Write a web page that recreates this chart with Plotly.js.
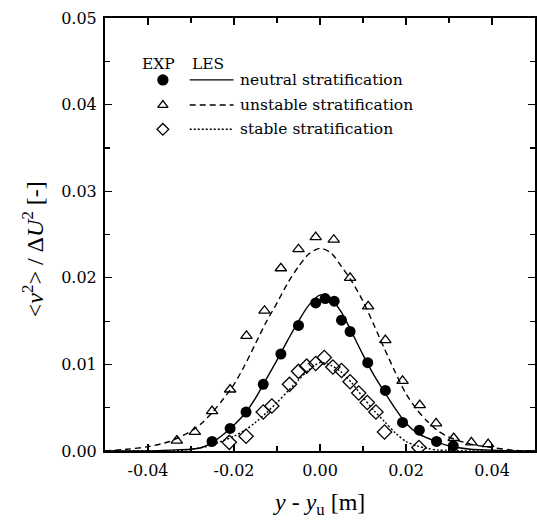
<!DOCTYPE html>
<html>
<head>
<meta charset="utf-8">
<script src="https://cdn.plot.ly/plotly-3.0.1.min.js"></script>
<style>html,body{margin:0;padding:0;background:#fff;}#chart{width:537px;height:520px;}</style>
</head>
<body>
<div id="chart"></div>
<script>
// ---- Experimental data (EXP) ----
const xExpNeutral = [-0.0251,-0.0209,-0.0172,-0.0132,-0.0091,-0.0050,-0.0010,0.0012,0.0033,0.0050,0.0070,0.0111,0.0152,0.0192,0.0231,0.0271,0.0310];
const yExpNeutral = [0.0011,0.0026,0.0045,0.0077,0.0112,0.0145,0.0171,0.0176,0.0173,0.0151,0.0138,0.0102,0.0070,0.0033,0.0024,0.0011,0.0006];

const xExpUnstable = [-0.0333,-0.0291,-0.0251,-0.0209,-0.0171,-0.0129,-0.0091,-0.0050,-0.0010,0.0032,0.0070,0.0112,0.0152,0.0192,0.0232,0.0270,0.0311,0.0352,0.0391];
const yExpUnstable = [0.0012,0.0022,0.0046,0.0071,0.0133,0.0162,0.0211,0.0233,0.0247,0.0244,0.0200,0.0167,0.0128,0.0081,0.0053,0.0032,0.0015,0.0010,0.0008];

const xExpStable = [-0.0211,-0.0172,-0.0132,-0.0112,-0.0071,-0.0050,-0.0031,-0.0010,0.0010,0.0030,0.0050,0.0070,0.0090,0.0110,0.0130,0.0150,0.0230];
const yExpStable = [0.0010,0.0017,0.0045,0.0052,0.0077,0.0092,0.0098,0.0101,0.0108,0.0097,0.0093,0.0080,0.0067,0.0056,0.0045,0.0022,0.0004];

// ---- LES profiles ----
const xLES = [-0.05,-0.045,-0.04,-0.035,-0.03,-0.0275,-0.025,-0.0225,-0.02,-0.0175,-0.015,-0.0125,-0.01,-0.0075,-0.005,-0.0025,0,0.0025,0.005,0.0075,0.01,0.0125,0.015,0.0175,0.02,0.0225,0.025,0.0275,0.03,0.035,0.04,0.045,0.05];
const yLESNeutral = [0,0,0,0.0001,0.0002,0.0004,0.0010,0.0019,0.0030,0.0043,0.0061,0.0083,0.0105,0.0128,0.0150,0.0169,0.0180,0.0176,0.0160,0.0136,0.0111,0.0088,0.0068,0.0049,0.0032,0.0021,0.0015,0.0010,0.0006,0.0002,0.0001,0,0];
const yLESUnstable = [0,0.0002,0.0005,0.0011,0.0023,0.0032,0.0045,0.0060,0.0077,0.0099,0.0124,0.0149,0.0171,0.0194,0.0213,0.0228,0.0234,0.0229,0.0213,0.0195,0.0173,0.0146,0.0118,0.0091,0.0066,0.0048,0.0034,0.0023,0.0016,0.0008,0.0004,0.0001,0];
const yLESStable = [0,0,0,0,0.0002,0.0004,0.0007,0.0012,0.0017,0.0024,0.0033,0.0044,0.0056,0.0069,0.0082,0.0094,0.0102,0.0099,0.0091,0.0078,0.0062,0.0047,0.0034,0.0021,0.0011,0.0006,0.0003,0.0001,0.0001,0,0,0,0];

// ---- Labels ----
const legendLabels = ['neutral stratification','unstable stratification','stable stratification'];
const xTickVals = [-0.04,-0.02,0.00,0.02,0.04];
const xTickText = ['-0.04','-0.02','0.00','0.02','0.04'];
const yTickVals = [0.00,0.01,0.02,0.03,0.04,0.05];
const yTickText = ['0.00','0.01','0.02','0.03','0.04','0.05'];

const FONT = 'DejaVu Serif';
const TFONT = 'Liberation Serif';
const dashes = ['solid','6px,4px','2px,2px'];
const symbols = ['circle','triangle-up-open','diamond-open'];

const lineW = 1.4;
const traces = [
  {x:xLES, y:yLESNeutral, mode:'lines', line:{color:'#000', width:lineW, dash:dashes[0], shape:'spline', smoothing:0.8}},
  {x:xLES, y:yLESUnstable, mode:'lines', line:{color:'#000', width:lineW, dash:dashes[1], shape:'spline', smoothing:0.8}},
  {x:xLES, y:yLESStable, mode:'lines', line:{color:'#000', width:lineW, dash:dashes[2], shape:'spline', smoothing:0.8}},
  {x:xExpNeutral, y:yExpNeutral, mode:'markers', marker:{symbol:symbols[0], size:11, color:'#000'}},
  {x:xExpUnstable, y:yExpUnstable, mode:'markers', marker:{symbol:symbols[1], size:10, color:'#000', line:{width:1.3,color:'#000'}}},
  {x:xExpStable, y:yExpStable, mode:'markers', marker:{symbol:symbols[2], size:11, color:'#000', line:{width:1.3,color:'#000'}}}
];

// legend glyphs on a hidden overlay axis (0..1 paper-like)
const legRowY = [0.857, 0.799, 0.743];
const legSymX = 0.1346, legLineX0 = 0.197, legLineX1 = 0.299, legTextX = 0.309;
legRowY.forEach((yy,i)=>{
  traces.push({x:[legSymX], y:[yy], xaxis:'x2', yaxis:'y2', mode:'markers',
    marker:{symbol:symbols[i], size: i===0?10:9, color:'#000', line:{width:1.3,color:'#000'}}});
  traces.push({x:[legLineX0, legLineX1], y:[yy,yy], xaxis:'x2', yaxis:'y2', mode:'lines',
    line:{color:'#000', width:lineW, dash:dashes[i]}});
});

const annotations = legRowY.map((yy,i)=>({
  xref:'paper', yref:'paper', x:legTextX, y:yy, xanchor:'left', yanchor:'middle',
  text:legendLabels[i], showarrow:false, font:{family:FONT, size:15.5, color:'#000'}
}));
annotations.push({xref:'paper', yref:'paper', x:0.125, y:0.894, xanchor:'center', yanchor:'middle', text:'EXP', showarrow:false, font:{family:FONT, size:15.5, color:'#000'}});
annotations.push({xref:'paper', yref:'paper', x:0.239, y:0.894, xanchor:'center', yanchor:'middle', text:'LES', showarrow:false, font:{family:FONT, size:15.5, color:'#000'}});
// y-axis title
annotations.push({xref:'paper', yref:'paper', x:-0.167, y:0.4665, xanchor:'center', yanchor:'middle', textangle:-90,
  text:'&lt;<i>v</i><sup>2</sup>&gt; / Δ<i>U</i><sup>2</sup> [-]', showarrow:false, font:{family:TFONT, size:24, color:'#000'}});
// x-axis title
annotations.push({xref:'paper', yref:'paper', x:0.498, y:-0.122, xanchor:'center', yanchor:'middle',
  text:'<i>y</i> - <i>y</i><sub>u</sub> [m]', showarrow:false, font:{family:TFONT, size:24, color:'#000'}});

const layout = {
  width:537, height:520,
  margin:{l:105, r:2, t:18, b:69},
  paper_bgcolor:'#fff', plot_bgcolor:'#fff',
  showlegend:false,
  font:{family:FONT, size:16, color:'#000'},
  xaxis:{range:[-0.05,0.05], tickvals:xTickVals, ticktext:xTickText, ticks:'inside', ticklen:7, tickwidth:1.3, tickcolor:'#000',
    showline:true, linewidth:2, linecolor:'#000', mirror:'allticks', showgrid:false, zeroline:false,
    minor:{dtick:0.01, tick0:0, ticks:'inside', ticklen:5, tickwidth:1.2, tickcolor:'#000'},
    tickfont:{family:FONT, size:16, color:'#000'}, ticklabelstandoff:4},
  yaxis:{range:[0,0.05], tickvals:yTickVals, ticktext:yTickText, ticks:'inside', ticklen:7, tickwidth:1.3, tickcolor:'#000',
    showline:true, linewidth:2, linecolor:'#000', mirror:'allticks', showgrid:false, zeroline:false,
    minor:{dtick:0.005, tick0:0, ticks:'inside', ticklen:5, tickwidth:1.2, tickcolor:'#000'},
    tickfont:{family:FONT, size:16, color:'#000'}, ticklabelstandoff:3},
  xaxis2:{overlaying:'x', range:[0,1], visible:false, fixedrange:true},
  yaxis2:{overlaying:'y', range:[0,1], visible:false, fixedrange:true},
  annotations:annotations
};

Plotly.newPlot('chart', traces, layout, {displayModeBar:false, staticPlot:true});
</script>
</body>
</html>
